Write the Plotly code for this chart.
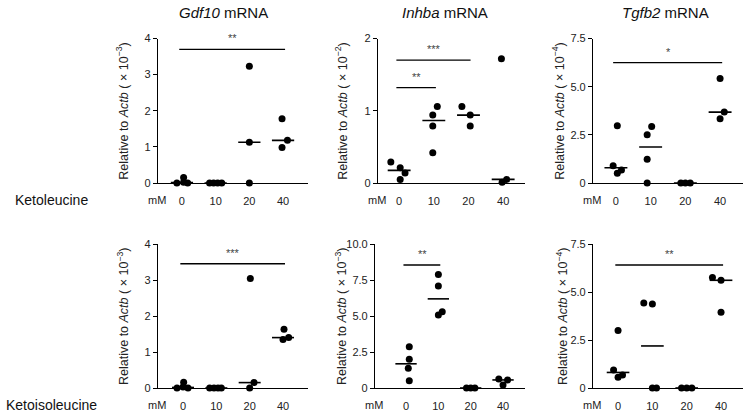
import numpy as np
import plotly.graph_objects as go

# ---------------- data ----------------
DOSES = ["0", "10", "20", "40"]
GENES = ["Gdf10", "Inhba", "Tgfb2"]
COMPOUNDS = ["Ketoleucine", "Ketoisoleucine"]

# values per dose group (relative to Actb, in units of the axis exponent)
gdf10_kl = [[0.0, 0.15, 0.02, 0.0], [0.0, 0.0, 0.0, 0.0], [3.23, 1.13, 0.0], [1.78, 1.18, 0.98]]
inhba_kl = [[0.29, 0.21, 0.14, 0.05], [1.06, 0.94, 0.79, 0.42], [1.06, 0.94, 0.79], [1.72, 0.05, 0.01]]
tgfb2_kl = [[2.97, 0.90, 0.68, 0.50], [2.93, 2.50, 1.23, 0.0], [0.0, 0.0, 0.0], [5.43, 3.68, 3.33]]
gdf10_ki = [[0.0, 0.16, 0.03, 0.0], [0.0, 0.0, 0.0, 0.0], [3.04, 0.15, 0.0], [1.63, 1.40, 1.35]]
inhba_ki = [[2.87, 1.99, 1.37, 0.51], [7.89, 7.08, 5.30, 5.07], [0.0, 0.0, 0.0], [0.63, 0.56, 0.21]]
tgfb2_ki = [[2.99, 0.94, 0.68, 0.56], [4.43, 4.38, 0.0, 0.0], [0.0, 0.0, 0.0], [5.76, 5.61, 3.94]]

# horizontal scatter of points within each dose group (category units)
gdf10_kl_jit = [[-0.15, 0.05, 0.05, 0.17], [-0.18, -0.06, 0.06, 0.18], [0.0, 0.0, 0.0], [-0.03, 0.13, -0.03]]
inhba_kl_jit = [[-0.24, 0.03, 0.17, 0.03], [0.10, -0.03, -0.03, -0.03], [-0.19, 0.05, 0.05], [-0.05, 0.10, -0.03]]
tgfb2_kl_jit = [[0.04, -0.08, 0.16, 0.04], [0.03, -0.10, -0.10, -0.10], [-0.13, 0.0, 0.14], [0.0, 0.12, 0.0]]
gdf10_ki_jit = [[-0.18, 0.02, 0.0, 0.15], [-0.2, -0.07, 0.05, 0.15], [0.02, 0.13, 0.0], [0.03, 0.17, 0.0]]
inhba_ki_jit = [[0.1, 0.1, 0.07, 0.1], [0.0, 0.0, 0.12, 0.0], [-0.13, 0.0, 0.13], [-0.13, 0.14, 0.0]]
tgfb2_ki_jit = [[0.0, -0.13, 0.13, 0.0], [-0.25, 0.0, 0.0, 0.12], [-0.15, 0.0, 0.15], [-0.25, 0.0, 0.0]]

# significance bars: (from group, to group, height, label)
gdf10_kl_sig = [(0, 3, 3.70, "**")]
inhba_kl_sig = [(0, 1, 1.32, "**"), (0, 2, 1.70, "***")]
tgfb2_kl_sig = [(0, 3, 6.25, "*")]
gdf10_ki_sig = [(0, 3, 3.45, "***")]
inhba_ki_sig = [(0, 1, 8.54, "**")]
tgfb2_ki_sig = [(0, 3, 6.41, "**")]

# y axis ticks
ticks_int4 = [0, 1, 2, 3, 4]
ticks_int2 = [0, 1, 2]
ticks_75 = [0, 2.5, 5.0, 7.5]
ticks_75_text = ["0", "2.5", "5.0", "7.5"]
ticks_10 = [0, 2.5, 5.0, 7.5, 10.0]
ticks_10_text = ["0", "2.5", "5.0", "7.5", "10.0"]
exponents = [[-3, -2, -4], [-3, -3, -4]]

panels = [
    dict(vals=gdf10_kl, jit=gdf10_kl_jit, sig=gdf10_kl_sig, tv=ticks_int4, tt=[str(t) for t in ticks_int4]),
    dict(vals=inhba_kl, jit=inhba_kl_jit, sig=inhba_kl_sig, tv=ticks_int2, tt=[str(t) for t in ticks_int2]),
    dict(vals=tgfb2_kl, jit=tgfb2_kl_jit, sig=tgfb2_kl_sig, tv=ticks_75, tt=ticks_75_text),
    dict(vals=gdf10_ki, jit=gdf10_ki_jit, sig=gdf10_ki_sig, tv=ticks_int4, tt=[str(t) for t in ticks_int4]),
    dict(vals=inhba_ki, jit=inhba_ki_jit, sig=inhba_ki_sig, tv=ticks_10, tt=ticks_10_text),
    dict(vals=tgfb2_ki, jit=tgfb2_ki_jit, sig=tgfb2_ki_sig, tv=ticks_75, tt=ticks_75_text),
]

# ---------------- layout geometry (pixels) ----------------
W, H = 747, 414
FONT = "Liberation Sans, Arial, Helvetica, sans-serif"
# (axis left px, axis right px, x range)
geom = [
    (158, 308, [-0.71, 3.74]),
    (378, 525, [-0.61, 3.63]),
    (593, 743, [-0.66, 3.66]),
    (158, 308, [-0.75, 3.75]),
    (375, 525, [-0.96, 3.68]),
    (593, 743, [-0.73, 3.64]),
]
row_y = [(38.5, 183), (244, 388)]  # top px, zero px
ytitle_x = [122, 341, 558, 123, 341, 562]

fig = go.Figure()
layout = dict(
    width=W, height=H, margin=dict(l=0, r=0, t=0, b=0, autoexpand=False),
    paper_bgcolor="white", plot_bgcolor="white", showlegend=False,
    font=dict(family=FONT, size=11, color="#222"),
)
annotations = []

for i, p in enumerate(panels):
    r, c = divmod(i, 3)
    xa = "x" if i == 0 else f"x{i+1}"
    ya = "y" if i == 0 else f"y{i+1}"
    left, right, xr = geom[i]
    top_px, zero_px = row_y[r]
    ymax = p["tv"][-1]

    layout["xaxis" if i == 0 else f"xaxis{i+1}"] = dict(
        domain=[left / W, right / W], range=xr, anchor=ya, automargin=False,
        showline=True, linecolor="black", linewidth=1.2,
        showgrid=False, zeroline=False,
        tickmode="array", tickvals=list(range(len(DOSES))), ticktext=DOSES,
        ticks="outside", ticklen=8, tickcolor="rgba(0,0,0,0)",
        tickfont=dict(size=11, color="#222", family=FONT),
    )
    layout["yaxis" if i == 0 else f"yaxis{i+1}"] = dict(
        domain=[1 - zero_px / H, 1 - top_px / H], range=[0, ymax], anchor=xa, automargin=False,
        showline=True, linecolor="black", linewidth=1.2,
        showgrid=False, zeroline=False,
        tickmode="array", tickvals=p["tv"], ticktext=p["tt"],
        ticks="outside", ticklen=4, tickcolor="black", tickwidth=1,
        tickfont=dict(size=11, color="#222", family=FONT),
    )

    # points and medians
    for g, (vals, jit) in enumerate(zip(p["vals"], p["jit"])):
        xs = [g + j for j in jit]
        fig.add_trace(go.Scatter(
            x=xs, y=vals, mode="markers", xaxis=xa, yaxis=ya,
            marker=dict(size=7, color="black"), cliponaxis=False,
        ))
        med = float(np.median(vals))
        fig.add_trace(go.Scatter(
            x=[g - 0.33, g + 0.33], y=[med, med], mode="lines", xaxis=xa, yaxis=ya,
            line=dict(color="black", width=1.6), cliponaxis=False,
        ))

    # significance bars
    for (a, b, h, lab) in p["sig"]:
        fig.add_trace(go.Scatter(
            x=[a - 0.08, b + 0.06], y=[h, h], mode="lines", xaxis=xa, yaxis=ya,
            line=dict(color="black", width=1.4), cliponaxis=False,
        ))
        annotations.append(dict(
            x=(a + b) / 2, y=h, xref=xa, yref=ya, text=lab, showarrow=False,
            yanchor="bottom", yshift=3, font=dict(size=11, color="#444444", family=FONT),
        ))

    # y axis title
    exp = exponents[r][c]
    annotations.append(dict(
        x=ytitle_x[i] / W, y=1 - (top_px + zero_px) / 2 / H, xref="paper", yref="paper",
        text=f"Relative to <i>Actb</i> ( × 10<sup>−{abs(exp)}</sup>)", textangle=-90,
        showarrow=False, xanchor="center", yanchor="middle",
        font=dict(size=12.5, color="#222", family=FONT),
    ))
    # mM label
    annotations.append(dict(
        x=(left - 1) / W, y=1 - (zero_px + 17) / H, xref="paper", yref="paper",
        text="mM", showarrow=False, xanchor="center", yanchor="middle",
        font=dict(size=11, color="#222", family=FONT),
    ))

# column titles
col_x = [223, 445, 665]
for c, gname in enumerate(GENES):
    annotations.append(dict(
        x=col_x[c] / W, y=1 - 12 / H, xref="paper", yref="paper",
        text=f"<i>{gname}</i> mRNA", showarrow=False, xanchor="center", yanchor="middle",
        font=dict(size=15, color="#111", family=FONT),
    ))
# row labels
row_lab_y = [200, 405]
for r, cname in enumerate(COMPOUNDS):
    annotations.append(dict(
        x=51 / W, y=1 - row_lab_y[r] / H, xref="paper", yref="paper",
        text=cname, showarrow=False, xanchor="center", yanchor="middle",
        font=dict(size=14, color="#111", family=FONT),
    ))

layout["annotations"] = annotations
fig.update_layout(**layout)
fig.write_html("out.html", config={"displayModeBar": False},
               post_script="document.body.style.margin='0';")
